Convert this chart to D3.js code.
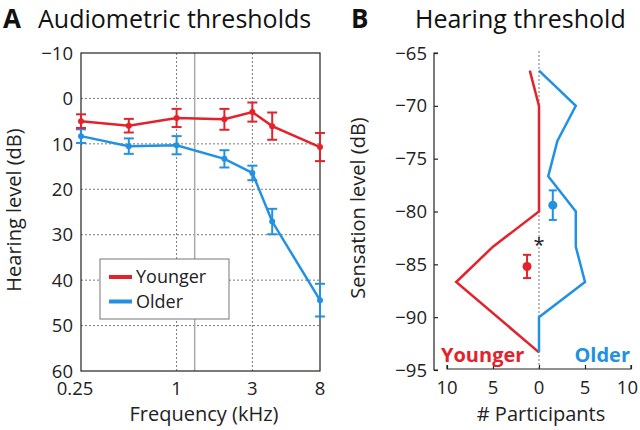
<!DOCTYPE html>
<html>
<head>
<meta charset="utf-8">
<script src="https://cdn.jsdelivr.net/npm/d3@7"></script>
<style>
  body { margin: 0; background: #fff; }
  svg { font-family: "Open Sans", "Noto Sans", sans-serif; }
</style>
</head>
<body>
<svg id="chart" width="640" height="430"></svg>
<script>
// panel A data
let freqs = [0.25, 0.5, 1, 2, 3, 4, 8];
let youngerMean = [5.0, 6.0, 4.3, 4.6, 3.0, 6.1, 10.7];
let youngerErr = [1.5, 1.5, 2.0, 2.3, 2.1, 3.0, 3.1];
let olderMean = [8.3, 10.5, 10.3, 13.3, 16.4, 27.1, 44.4];
let olderErr = [1.5, 1.7, 2.0, 1.9, 1.6, 2.8, 3.6];
let freqTicks = [0.25, 1, 3, 8];
let levelTicks = [-10, 0, 10, 20, 30, 40, 50, 60];
let markerFreq = 1.3;

// panel B data (histogram outlines)
let youngerLevels = [-66.67, -70, -80, -83.33, -86.67, -93.33];
let youngerCounts = [1, 0, 0, 5, 9, 0];
let olderLevels = [-66.67, -70, -73.33, -76.67, -80, -83.33, -86.67, -90, -93.33];
let olderCounts = [0, 4, 2, 1, 4, 4, 5, 0, 0];
let threshYounger = { mean: -85.2, err: 1.1, pos: -1.3 };
let threshOlder = { mean: -79.4, err: 1.4, pos: 1.5 };
let sensTicks = [-65, -70, -75, -80, -85, -90, -95];
let partTicks = [-10, -5, 0, 5, 10];

let red = "#e4222b", blue = "#2291e2";
let tickSize = 18.5, labelSize = 20, titleSize = 25;

let svg = d3.select("#chart");

// ---------- panel A ----------
let xA = d3.scaleLog().base(2).domain([0.25, 8]).range([81, 320]);
let yA = d3.scaleLinear().domain([-10, 60]).range([53, 371]);

let A = svg.append("g");

// grid
A.selectAll(".gy").data(levelTicks.filter(d => d > -10 && d < 60)).enter()
  .append("line")
  .attr("x1", xA.range()[0]).attr("x2", xA.range()[1])
  .attr("y1", d => yA(d)).attr("y2", d => yA(d))
  .attr("stroke", "#555").attr("stroke-width", 0.8).attr("stroke-dasharray", "2,2");
A.selectAll(".gx").data([1, 3]).enter()
  .append("line")
  .attr("x1", d => xA(d)).attr("x2", d => xA(d))
  .attr("y1", yA.range()[0]).attr("y2", yA.range()[1])
  .attr("stroke", "#555").attr("stroke-width", 0.8).attr("stroke-dasharray", "2,2");
A.append("line")
  .attr("x1", xA(markerFreq)).attr("x2", xA(markerFreq))
  .attr("y1", yA.range()[0]).attr("y2", yA.range()[1])
  .attr("stroke", "#aaa").attr("stroke-width", 1.5);

// frame
A.append("rect")
  .attr("x", 81).attr("y", 53).attr("width", 239).attr("height", 318)
  .attr("fill", "none").attr("stroke", "#222").attr("stroke-width", 1.2);

// y tick labels
A.selectAll(".yl").data(levelTicks).enter()
  .append("text")
  .attr("x", 73).attr("y", d => yA(d)).attr("dy", "0.36em")
  .attr("text-anchor", "end").attr("font-size", tickSize).attr("fill", "#222")
  .text(d => d < 0 ? "\u2212" + Math.abs(d) : d);
// x tick labels
A.selectAll(".xl").data(freqTicks).enter()
  .append("text")
  .attr("x", d => d === 0.25 ? xA(d) - 6 : xA(d)).attr("y", 395)
  .attr("text-anchor", "middle").attr("font-size", tickSize).attr("fill", "#222")
  .text(d => d);

A.append("text").attr("x", 204).attr("y", 421).attr("text-anchor", "middle")
  .attr("font-size", labelSize).attr("fill", "#222").text("Frequency (kHz)");
A.append("text").attr("transform", "translate(21,210) rotate(-90)")
  .attr("text-anchor", "middle").attr("font-size", labelSize).attr("fill", "#222")
  .text("Hearing level (dB)");

A.append("text").attr("x", 3).attr("y", 28).attr("font-size", 26)
  .attr("font-weight", "bold").attr("fill", "#111").text("A");
A.append("text").attr("x", 38).attr("y", 28).attr("font-size", titleSize)
  .attr("fill", "#111").text("Audiometric thresholds");

function drawSeries(g, means, errs, color) {
  let pts = freqs.map((f, i) => ({ f: f, m: means[i], e: errs[i] }));
  g.append("path").datum(pts)
    .attr("d", d3.line().x(d => xA(d.f)).y(d => yA(d.m)))
    .attr("fill", "none").attr("stroke", color).attr("stroke-width", 2.5);
  let eb = g.selectAll(null).data(pts).enter().append("g");
  eb.append("line")
    .attr("x1", d => xA(d.f)).attr("x2", d => xA(d.f))
    .attr("y1", d => yA(d.m - d.e)).attr("y2", d => yA(d.m + d.e))
    .attr("stroke", color).attr("stroke-width", 2);
  [-1, 1].forEach(s => {
    eb.append("line")
      .attr("x1", d => xA(d.f) - 5).attr("x2", d => xA(d.f) + 5)
      .attr("y1", d => yA(d.m + s * d.e)).attr("y2", d => yA(d.m + s * d.e))
      .attr("stroke", color).attr("stroke-width", 2);
  });
  eb.append("circle").attr("cx", d => xA(d.f)).attr("cy", d => yA(d.m))
    .attr("r", 3).attr("fill", color);
}
drawSeries(A, olderMean, olderErr, blue);
drawSeries(A, youngerMean, youngerErr, red);

// legend
let leg = A.append("g");
leg.append("rect").attr("x", 100).attr("y", 259).attr("width", 129).attr("height", 60)
  .attr("fill", "#fff").attr("stroke", "#777").attr("stroke-width", 1);
[["Younger", red], ["Older", blue]].forEach((d, i) => {
  let ly = 277 + i * 24.5;
  leg.append("line").attr("x1", 109).attr("x2", 132).attr("y1", ly).attr("y2", ly)
    .attr("stroke", d[1]).attr("stroke-width", 4);
  leg.append("text").attr("x", 136).attr("y", ly).attr("dy", "0.36em")
    .attr("font-size", 18).attr("fill", "#222").text(d[0]);
});

// ---------- panel B ----------
let xB = d3.scaleLinear().domain([-10, 10]).range([447, 631]);
let yB = d3.scaleLinear().domain([-65, -95]).range([53, 370]);
let B = svg.append("g");

B.append("text").attr("x", 351).attr("y", 28).attr("font-size", 26)
  .attr("font-weight", "bold").attr("fill", "#111").text("B");
B.append("text").attr("x", 415).attr("y", 28).attr("font-size", titleSize)
  .attr("fill", "#111").text("Hearing threshold");

// y axis
let yAxisB = B.append("g").attr("transform", "translate(434,0)")
  .call(d3.axisRight(yB).tickValues(sensTicks).tickSize(4).tickFormat(""));
yAxisB.select(".domain").attr("d", "M4," + yB(-65) + "H0V" + yB(-95) + "H4")
  .attr("stroke", "#222").attr("stroke-width", 1.2);
yAxisB.selectAll(".tick line").attr("stroke", "#222").attr("stroke-width", 1.2);
B.selectAll(".yl").data(sensTicks).enter().append("text")
  .attr("x", 427).attr("y", d => yB(d)).attr("dy", "0.36em")
  .attr("text-anchor", "end").attr("font-size", tickSize).attr("fill", "#222")
  .text(d => "\u2212" + Math.abs(d));
B.append("text").attr("transform", "translate(365,208) rotate(-90)")
  .attr("text-anchor", "middle").attr("font-size", labelSize).attr("fill", "#222")
  .text("Sensation level (dB)");

// x axis
let xAxisB = B.append("g").attr("transform", "translate(0,369)")
  .call(d3.axisTop(xB).tickValues(partTicks).tickSize(4).tickFormat(""));
xAxisB.select(".domain").attr("d", "M" + xB(-10) + ",-4V0H" + xB(10) + "V-4")
  .attr("stroke", "#222").attr("stroke-width", 1.2);
xAxisB.selectAll(".tick line").attr("stroke", "#222").attr("stroke-width", 1.2);
B.selectAll(".xl").data(partTicks).enter().append("text")
  .attr("x", d => d === 10 ? 638 : xB(d)).attr("y", 394)
  .attr("text-anchor", d => d === 10 ? "end" : "middle")
  .attr("font-size", tickSize).attr("fill", "#222").text(d => Math.abs(d));
B.append("text").attr("x", 541).attr("y", 421).attr("text-anchor", "middle")
  .attr("font-size", labelSize).attr("fill", "#222").text("# Participants");

// zero line
B.append("line").attr("x1", xB(0)).attr("x2", xB(0)).attr("y1", 51).attr("y2", 369)
  .attr("stroke", "#555").attr("stroke-width", 0.8).attr("stroke-dasharray", "2,2");

// histogram outlines
B.append("path")
  .datum(youngerLevels.map((l, i) => [-youngerCounts[i], l]))
  .attr("d", d3.line().x(d => xB(d[0])).y(d => yB(d[1])))
  .attr("fill", "none").attr("stroke", red).attr("stroke-width", 2.5);
B.append("path")
  .datum(olderLevels.map((l, i) => [olderCounts[i], l]))
  .attr("d", d3.line().x(d => xB(d[0])).y(d => yB(d[1])))
  .attr("fill", "none").attr("stroke", blue).attr("stroke-width", 2.5);

// mean thresholds
[[threshYounger, red], [threshOlder, blue]].forEach(([t, c]) => {
  let cx = xB(t.pos);
  B.append("line").attr("x1", cx).attr("x2", cx)
    .attr("y1", yB(t.mean - t.err)).attr("y2", yB(t.mean + t.err))
    .attr("stroke", c).attr("stroke-width", 2);
  [-1, 1].forEach(s => {
    B.append("line").attr("x1", cx - 4).attr("x2", cx + 4)
      .attr("y1", yB(t.mean + s * t.err)).attr("y2", yB(t.mean + s * t.err))
      .attr("stroke", c).attr("stroke-width", 2);
  });
  B.append("circle").attr("cx", cx).attr("cy", yB(t.mean)).attr("r", 4.5).attr("fill", c);
});

B.append("text").attr("x", xB(0)).attr("y", yB(-82.5)).attr("dy", "0.7em")
  .attr("text-anchor", "middle").attr("font-size", 20).attr("fill", "#222").text("*");

B.append("text").attr("x", 441).attr("y", 362).attr("font-size", 20)
  .attr("font-weight", "bold").attr("fill", red).text("Younger");
B.append("text").attr("x", 630).attr("y", 362).attr("text-anchor", "end").attr("font-size", 20)
  .attr("font-weight", "bold").attr("fill", blue).text("Older");
</script>
</body>
</html>
